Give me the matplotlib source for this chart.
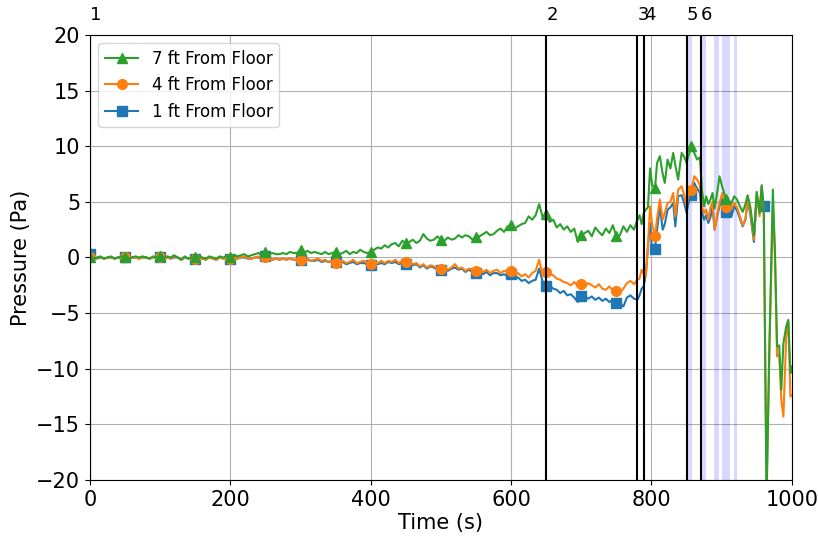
import numpy as np
import matplotlib
matplotlib.use('Agg')
import matplotlib.pyplot as plt
import matplotlib.transforms as mtransforms

# ---- data ----
# 0..780 s every 5 s, then irregular samples up to 1000 s
t_early = list(range(0, 781, 5))
t_late = [783, 786, 789, 792, 795, 798, 801, 805, 808, 812, 816, 819, 823, 827,
          831, 834, 838, 843, 847, 850, 853, 857, 861, 865, 869, 872, 875, 878,
          881, 884, 887, 890, 894, 897, 901, 906, 910, 914, 918, 922, 926, 930,
          934, 937, 941, 946, 950, 954, 957, 960, 964, 968, 973, 976, 979, 982,
          985, 988, 992, 995, 998, 1000]
time = np.array(t_early + t_late)

p7 = [0.0, -0.1, 0.0, 0.1, -0.1, 0.0, 0.1, -0.1, 0.0, 0.1, 0.0, -0.1, 0.0, 0.1, 0.0, 0.1,
      0.0, -0.1, 0.1, 0.0, 0.1, 0.0, 0.1, 0.0, 0.2, 0.0, -0.2, 0.1, -0.1, 0.0, 0.0, 0.1,
      0.0, -0.1, 0.1, 0.0, -0.1, 0.1, 0.0, 0.1, 0.0, 0.2, 0.1, 0.2, 0.3, 0.1, 0.2, 0.3,
      0.4, 0.2, 0.5, 0.3, 0.4, 0.3, 0.3, 0.4, 0.3, 0.5, 0.4, 0.4, 0.7, 0.4, 0.6, 0.4,
      0.5, 0.4, 0.3, 0.5, 0.3, 0.4, 0.5, 0.3, 0.4, 0.6, 0.3, 0.5, 0.4, 0.7, 0.5, 0.4,
      0.5, 0.7, 0.9, 0.8, 1.1, 0.9, 1.2, 1.3, 1.0, 1.5, 1.3, 1.4, 1.6, 1.3, 1.5, 2.1,
      1.7, 1.5, 1.6, 1.9, 1.6, 1.5, 1.8, 1.6, 1.7, 2.0, 1.8, 2.0, 1.9, 1.6, 1.8, 1.9,
      2.1, 2.3, 2.0, 2.1, 2.4, 2.6, 2.3, 2.8, 2.9, 2.6, 2.8, 3.0, 3.1, 3.7, 3.4, 3.8,
      4.8, 3.6, 3.9, 3.2, 3.4, 2.7, 3.0, 2.5, 2.8, 2.3, 2.6, 1.4, 2.0, 2.2, 2.4, 1.9,
      2.7, 2.3, 2.0, 2.6, 2.2, 2.9, 1.9, 2.0, 2.8, 2.3, 2.9, 2.5, 3.4,
      3.8, 3.0, 4.0, 4.3, 4.5, 8.0, 6.5, 6.2, 8.5, 9.1, 7.5, 6.7, 8.8, 8.0, 9.4, 8.3,
      7.0, 9.4, 9.0, 8.5, 9.2, 10.0, 9.4, 8.8, 9.0, 6.0, 4.6, 5.5, 4.8, 5.2, 5.8, 4.4,
      6.0, 7.3, 6.3, 5.3, 5.0, 4.9, 5.5, 5.2, 4.6, 4.1, 4.8, 5.6, 4.5, 2.0, 5.9, 4.0,
      6.5, 4.6, -22.0, -8.0, 6.1, 0.4, -8.0, -7.9, -11.9, -7.7, -6.2, -5.6, -10.4, -9.8]

p4 = [0.0, -0.1, 0.0, 0.0, -0.1, 0.0, 0.0, -0.1, 0.0, 0.0, 0.0, -0.1, 0.0, 0.0, -0.1, 0.0,
      0.0, -0.1, 0.0, 0.0, 0.0, -0.1, 0.0, -0.1, 0.1, 0.0, -0.2, 0.0, -0.1, 0.0, -0.1, 0.0,
      -0.1, -0.2, 0.0, -0.1, -0.2, 0.0, -0.1, 0.0, -0.1, 0.0, -0.1, 0.0, 0.1, -0.1, -0.1, 0.0,
      0.1, -0.1, 0.0, -0.1, -0.2, -0.1, -0.2, -0.1, -0.2, -0.1, -0.2, -0.2, -0.2, -0.3, -0.1, -0.3,
      -0.2, -0.1, -0.3, -0.2, -0.4, -0.3, -0.5, -0.4, -0.3, -0.5, -0.4, -0.2, -0.5, -0.4, -0.3, -0.5,
      -0.6, -0.4, -0.5, -0.3, -0.5, -0.3, -0.4, -0.2, -0.5, -0.3, -0.4, -0.5, -0.6, -0.5, -0.8, -0.6,
      -0.9, -0.7, -0.8, -1.0, -1.0, -0.8, -1.1, -0.9, -0.6, -1.0, -0.9, -1.2, -1.0, -1.1, -1.2, -1.0,
      -1.3, -1.1, -1.4, -1.2, -1.1, -1.4, -1.2, -1.3, -1.2, -1.6, -1.4, -1.7, -1.5, -1.8, -1.4, -1.2,
      -0.2, -1.6, -1.3, -1.5, -1.6, -1.9, -2.0, -2.2, -2.3, -2.5, -2.2, -2.6, -2.4, -2.6, -2.3, -2.5,
      -2.7, -2.4, -2.8, -2.9, -2.6, -3.0, -3.0, -3.2, -2.8, -2.3, -2.1, -2.4, -2.0,
      -1.9, -1.1, -1.5, -1.7, 1.0, 4.6, 3.0, 1.9, 3.5, 5.2, 3.4, 4.0, 4.9, 5.0, 5.8, 3.7,
      6.1, 6.4, 5.5, 4.6, 5.8, 6.1, 7.3, 7.0, 6.5, 4.5, 4.0, 4.3, 3.4, 4.5, 5.0, 2.5,
      4.0, 4.9, 5.8, 4.5, 4.4, 4.4, 4.9, 4.5, 3.7, 2.9, 3.5, 5.3, 4.0, 1.6, 5.8, 3.7,
      6.4, 4.3, -21.0, -8.5, 4.6, 0.1, -8.9, -8.7, -12.8, -14.3, -7.1, -5.8, -12.5, -12.4]

p1 = [0.3, 0.0, -0.1, 0.0, -0.1, 0.0, 0.0, -0.1, 0.0, -0.1, 0.0, -0.1, 0.0, 0.0, -0.1, 0.0,
      0.0, -0.1, 0.0, 0.0, 0.0, -0.1, 0.0, -0.1, 0.0, 0.0, -0.2, 0.0, -0.1, 0.0, -0.1, 0.0,
      -0.1, -0.2, 0.0, -0.1, -0.2, 0.0, -0.1, 0.0, -0.1, 0.0, -0.1, 0.0, 0.0, -0.1, -0.1, 0.0,
      0.0, -0.1, 0.1, -0.1, -0.2, -0.1, -0.2, -0.1, -0.2, -0.1, -0.2, -0.2, -0.2, -0.3, -0.2, -0.3,
      -0.3, -0.2, -0.4, -0.3, -0.4, -0.3, -0.4, -0.5, -0.4, -0.6, -0.5, -0.4, -0.6, -0.5, -0.5, -0.6,
      -0.7, -0.5, -0.6, -0.5, -0.6, -0.4, -0.5, -0.4, -0.6, -0.5, -0.6, -0.6, -0.7, -0.6, -0.9, -0.7,
      -1.0, -0.8, -0.9, -1.1, -1.1, -0.9, -1.2, -1.0, -0.9, -1.1, -1.0, -1.3, -1.1, -1.3, -1.4, -1.2,
      -1.5, -1.3, -1.6, -1.4, -1.4, -1.6, -1.5, -1.7, -1.5, -1.9, -1.8, -2.1, -2.0, -2.3, -2.1, -2.0,
      -1.0, -2.2, -2.6, -2.5, -2.8, -2.9, -3.2, -3.0, -3.4, -3.3, -3.6, -4.0, -3.5, -3.5, -3.7, -3.5,
      -3.8, -3.6, -3.9, -3.7, -4.0, -3.8, -4.1, -4.1, -4.4, -3.6, -3.4, -3.7, -3.8,
      -3.4, -2.8, -2.6, -1.5, 1.0, 3.1, 0.5, 0.8, 2.5, 4.6, 2.5, 3.0, 4.3, 4.5, 4.9, 2.8,
      5.5, 5.6, 4.8, 4.0, 5.0, 5.6, 6.7, 6.2, 5.8, 4.0, 3.4, 3.8, 3.1, 3.6, 4.5, 2.5,
      3.8, 4.6, 5.3, 4.1, 3.8, 3.7, 4.6, 4.2, 3.5, 2.8, 3.4, 5.2, 3.8, 1.4, 5.5, 4.1,
      5.8, 4.6]

event_t = [0, 650, 780, 790, 850, 870]
event_lbl = ['1', '2', '3', '4', '5', '6']
span_start = [852, 871, 889, 901, 918]
span_end = [858, 878, 896, 912, 922]
mark_t = list(range(0, 751, 50)) + [805, 857, 906, 960]

fig = plt.figure(figsize=(8.18, 5.37), dpi=100)
ax = fig.add_axes([0.110, 0.106, 0.858, 0.829])

for a, b in zip(span_start, span_end):
    ax.axvspan(a, b, color='blue', alpha=0.15, lw=0)

n1 = len(p1)
mk1 = [i for i in range(n1) if time[i] in mark_t]
mk = [i for i in range(len(time)) if time[i] in mark_t and time[i] != 960]

l1, = ax.plot(time[:n1], p1, color='tab:blue', lw=1.5, marker='s', ms=7, markevery=mk1,
              label='1 ft From Floor')
l4, = ax.plot(time, p4, color='tab:orange', lw=1.5, marker='o', ms=7, markevery=mk,
              label='4 ft From Floor')
l7, = ax.plot(time, p7, color='tab:green', lw=1.5, marker='^', ms=7, markevery=mk,
              label='7 ft From Floor')

trans = mtransforms.blended_transform_factory(ax.transData, ax.transAxes)
for x, s in zip(event_t, event_lbl):
    ax.axvline(x, color='black', lw=1.5)
    ax.text(x, 1.025, s, transform=trans, ha='left', va='bottom', fontsize=13)

ax.set_xlim(0, 1000)
ax.set_ylim(-20, 20)
ax.set_xticks([0, 200, 400, 600, 800, 1000])
ax.set_yticks(range(-20, 21, 5))
ax.grid(True, color='#b0b0b0', lw=0.8)
ax.set_axisbelow(True)
ax.tick_params(labelsize=15)
ax.set_xlabel('Time (s)', fontsize=15, labelpad=2)
ax.set_ylabel('Pressure (Pa)', fontsize=15)
ax.legend(handles=[l7, l4, l1], loc='upper left', fontsize=12)

fig.savefig('out.png', dpi=100)
